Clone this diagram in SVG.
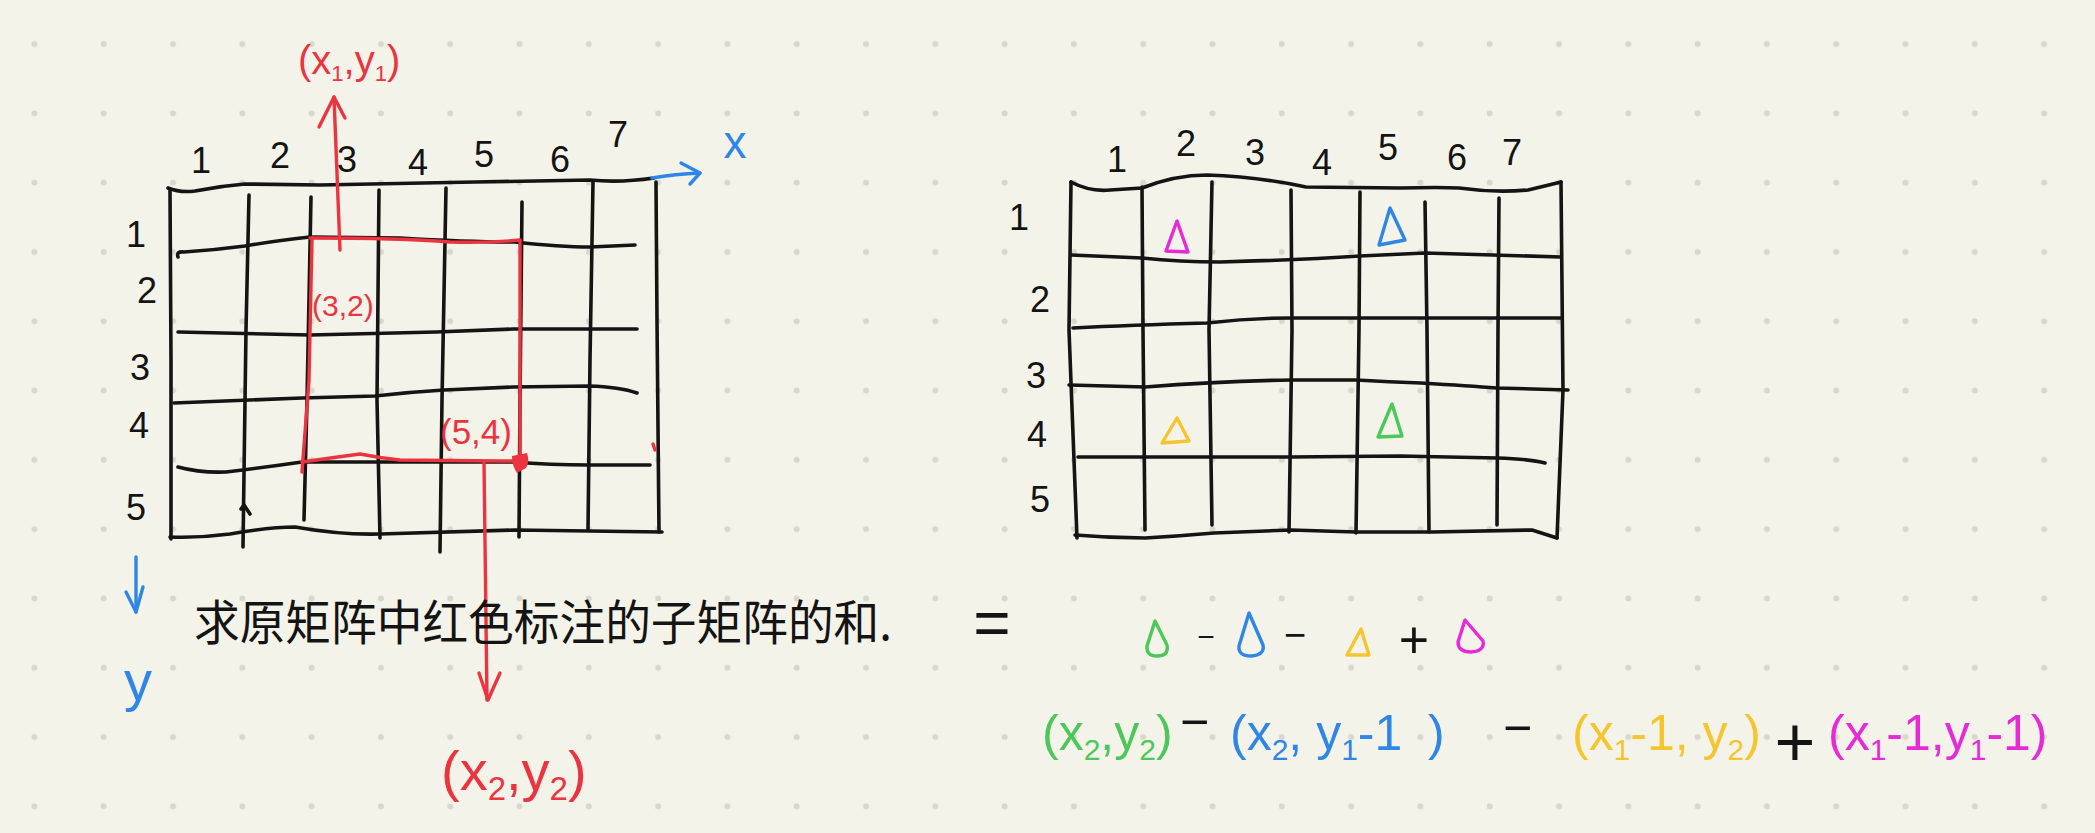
<svg xmlns="http://www.w3.org/2000/svg" width="2095" height="833" viewBox="0 0 2095 833">
<style>
.k{fill:none;stroke:#141414;stroke-width:3.6;stroke-linecap:round;stroke-linejoin:round}
.r{fill:none;stroke:#ec3440;stroke-width:3.4;stroke-linecap:round;stroke-linejoin:round}
.b{fill:none;stroke:#2f86e6;stroke-width:3.4;stroke-linecap:round;stroke-linejoin:round}
.tri{fill:none;stroke-width:3.4;stroke-linecap:round;stroke-linejoin:round}
.t{font-family:"Liberation Sans",Arial,sans-serif}
.num{font-family:"Liberation Sans",Arial,sans-serif;font-size:36px;fill:#141414;text-anchor:middle}
.cjk{font-family:"Noto Sans CJK SC","Liberation Sans",sans-serif}
.f{font-family:"Liberation Sans",Arial,sans-serif;font-size:50px}
</style>
<defs>
<pattern id="dots" x="0" y="0" width="69.3" height="69.3" patternUnits="userSpaceOnUse">
<circle cx="34.4" cy="44" r="3" fill="#d8d7ce"/>
</pattern>
</defs>
<rect width="2095" height="833" fill="#f4f3e9"/>
<rect width="2095" height="833" fill="url(#dots)"/>

<g id="left-grid">
<path class="k" d="M168,188 Q180,193 195,191 Q220,186 245,184 L320,185 L475,182 L590,180 Q620,183 654,178"/>
<path class="k" d="M170,190 L171,360 L171,539"/>
<path class="k" d="M170,537 Q200,538 230,534 Q270,527 295,527 Q340,535 380,534 L515,530 L662,532"/>
<path class="k" d="M656,182 L657,320 L659,532"/>
<path class="k" d="M249,195 L246,330 L243,547"/>
<path class="k" d="M311,197 L307,400 L304,520"/>
<path class="k" d="M379,190 L377,400 L380,538"/>
<path class="k" d="M446,188 L442,400 L440,552"/>
<path class="k" d="M522,202 L520,400 L519,537"/>
<path class="k" d="M593,182 L590,360 L588,530"/>
<path class="k" d="M178,257 Q176,251 184,252 Q215,250 245,246 Q280,240 310,237 L400,238 Q470,242 515,242 Q560,247 590,247 L635,245"/>
<path class="k" d="M178,332 L310,335 L436,332 L513,329 L637,329"/>
<path class="k" d="M174,403 L302,398 Q340,397 375,396 Q410,392 444,390 L513,387 L589,386 Q620,387 637,393"/>
<path class="k" d="M178,467 Q200,473 226,472 Q260,468 302,462 L513,462 Q550,465 589,465 L650,465"/>
<path class="k" d="M241,509 L244,505 L250,514"/>
</g>

<g id="red-box">
<path class="r" d="M310,238 Q400,238 450,242 Q490,243 520,240"/>
<path class="r" d="M312,238 L309,380 L302,472"/>
<path class="r" d="M302,462 Q330,458 360,454 Q380,458 400,460 L500,461 L520,461"/>
<path class="r" d="M520,240 L520,462"/>
<path d="M512,456 L527,453 Q530,462 526,468 L517,473 Q512,466 512,456 Z" fill="#ec3440"/>
<path class="r" d="M653,444 L655,450"/>
</g>

<g id="connectors">
<path class="r" d="M340,250 L334,97"/>
<path class="r" d="M319,127 L334,97 L345,118"/>
<path class="r" d="M484,462 L487,700"/>
<path class="r" d="M479,673 L488,700 L500,673"/>
<path class="b" d="M652,178 Q675,174 700,173"/>
<path class="b" d="M681,163 L700,173 L690,184"/>
<path class="b" d="M136,557 L136,612"/>
<path class="b" d="M126,592 L136,612 L143,587"/>
</g>

<g id="left-labels">
<text class="num" x="201" y="173">1</text>
<text class="num" x="280" y="168">2</text>
<text class="num" x="347" y="172">3</text>
<text class="num" x="418" y="175">4</text>
<text class="num" x="484" y="167">5</text>
<text class="num" x="560" y="172">6</text>
<text class="num" x="618" y="147">7</text>
<text class="num" x="136" y="247">1</text>
<text class="num" x="147" y="303">2</text>
<text class="num" x="140" y="380">3</text>
<text class="num" x="139" y="438">4</text>
<text class="num" x="136" y="520">5</text>
<text class="t" x="735" y="158" font-size="46" fill="#2f86e6" text-anchor="middle">x</text>
<text class="t" x="138" y="700" font-size="56" fill="#2f86e6" text-anchor="middle">y</text>
<text class="t" x="298" y="74" font-size="40" fill="#ec3440">(x<tspan font-size="22" dy="7">1</tspan><tspan dy="-7">,y</tspan><tspan font-size="22" dy="7">1</tspan><tspan dy="-7">)</tspan></text>
<text class="t" x="312" y="316" font-size="30" fill="#ec3440">(3,2)</text>
<text class="t" x="440" y="444" font-size="35" fill="#ec3440">(5,4)</text>
<text class="t" x="441" y="790" font-size="56" fill="#ec3440">(x<tspan font-size="33" dy="10">2</tspan><tspan dy="-10">,y</tspan><tspan font-size="33" dy="10">2</tspan><tspan dy="-10">)</tspan></text>
<text class="cjk" x="194" y="640" font-size="48" fill="#141414" textLength="698" lengthAdjust="spacingAndGlyphs">求原矩阵中红色标注的子矩阵的和.</text>
<text class="t" x="992" y="645" font-size="64" fill="#141414" text-anchor="middle">=</text>
</g>

<g id="right-grid">
<path class="k" d="M1071,182 Q1090,192 1110,190 L1142,188 Q1175,175 1207,175 Q1260,177 1306,187 L1400,188 Q1440,187 1459,188 Q1495,193 1528,190 Q1545,186 1561,182"/>
<path class="k" d="M1071,182 L1069,330 L1077,538"/>
<path class="k" d="M1561,182 L1563,390 L1557,538"/>
<path class="k" d="M1075,535 Q1110,538 1145,538 Q1180,536 1214,533 L1291,530 L1356,532 L1432,532 L1532,530 L1557,538"/>
<path class="k" d="M1142,187 L1143,330 L1145,530"/>
<path class="k" d="M1212,182 L1209,330 L1212,525"/>
<path class="k" d="M1291,190 L1292,330 L1289,532"/>
<path class="k" d="M1360,192 L1359,330 L1356,533"/>
<path class="k" d="M1425,202 L1427,330 L1429,532"/>
<path class="k" d="M1499,198 L1498,330 L1497,525"/>
<path class="k" d="M1071,255 L1142,258 Q1180,262 1220,262 Q1300,260 1360,256 L1425,253 L1561,257"/>
<path class="k" d="M1073,328 Q1130,325 1207,323 Q1250,318 1291,318 L1561,318"/>
<path class="k" d="M1069,385 L1145,387 Q1220,381 1291,380 L1356,380 Q1390,382 1421,383 Q1470,386 1497,388 L1568,390"/>
<path class="k" d="M1078,457 L1290,457 L1400,456 L1497,458 Q1530,459 1545,463"/>
<path class="tri" stroke="#e52ad6" d="M1177,221 L1166,251 L1188,252 Z"/>
<path class="tri" stroke="#2f86e6" d="M1390,208 L1379,245 L1405,240 Z"/>
<path class="tri" stroke="#f5c530" d="M1177,418 L1162,443 L1189,441 Z"/>
<path class="tri" stroke="#4cc85a" d="M1392,404 L1378,437 L1402,436 Z"/>
</g>

<g id="right-labels">
<text class="num" x="1117" y="172">1</text>
<text class="num" x="1186" y="156">2</text>
<text class="num" x="1255" y="165">3</text>
<text class="num" x="1322" y="175">4</text>
<text class="num" x="1388" y="160">5</text>
<text class="num" x="1457" y="170">6</text>
<text class="num" x="1512" y="165">7</text>
<text class="num" x="1019" y="230">1</text>
<text class="num" x="1040" y="312">2</text>
<text class="num" x="1036" y="388">3</text>
<text class="num" x="1037" y="447">4</text>
<text class="num" x="1040" y="512">5</text>
</g>

<g id="formula">
<path class="tri" stroke="#4cc85a" d="M1155,621 L1147,646 Q1146,656 1157,656 Q1169,656 1167,645 Z"/>
<path class="tri" stroke="#2f86e6" d="M1249,613 L1239,646 Q1238,656 1251,656 Q1265,655 1263,645 Z"/>
<path class="tri" stroke="#f5c530" d="M1361,629 L1347,655 L1369,655 Z"/>
<path class="tri" stroke="#e52ad6" d="M1465,620 L1458,642 Q1458,652 1471,652 Q1485,651 1483,641 Z"/>
<text class="t" x="1206" y="647" font-size="30" fill="#141414" text-anchor="middle">−</text>
<text class="t" x="1295" y="648" font-size="38" fill="#141414" text-anchor="middle">−</text>
<text class="t" x="1414" y="658" font-size="52" fill="#141414" text-anchor="middle">+</text>
<text class="f" x="1042" y="750" fill="#4cc85a">(x<tspan font-size="30" dy="10">2</tspan><tspan dy="-10">,y</tspan><tspan font-size="30" dy="10">2</tspan><tspan dy="-10">)</tspan></text>
<text class="t" x="1180" y="739" font-size="50" fill="#141414">−</text>
<text class="f" x="1230" y="750" fill="#2f86e6">(x<tspan font-size="30" dy="10">2</tspan><tspan dy="-10">, y</tspan><tspan font-size="30" dy="10">1</tspan><tspan dy="-10">-1</tspan><tspan x="1428">)</tspan></text>
<text class="t" x="1503" y="745" font-size="50" fill="#141414">−</text>
<text class="f" x="1572" y="750" fill="#f5c530">(x<tspan font-size="30" dy="10">1</tspan><tspan dy="-10">-1, y</tspan><tspan font-size="30" dy="10">2</tspan><tspan dy="-10">)</tspan></text>
<text class="t" x="1795" y="766" font-size="70" fill="#141414" text-anchor="middle">+</text>
<text class="f" x="1828" y="750" fill="#e52ad6">(x<tspan font-size="30" dy="10">1</tspan><tspan dy="-10">-1,y</tspan><tspan font-size="30" dy="10">1</tspan><tspan dy="-10">-1)</tspan></text>
</g>
</svg>
